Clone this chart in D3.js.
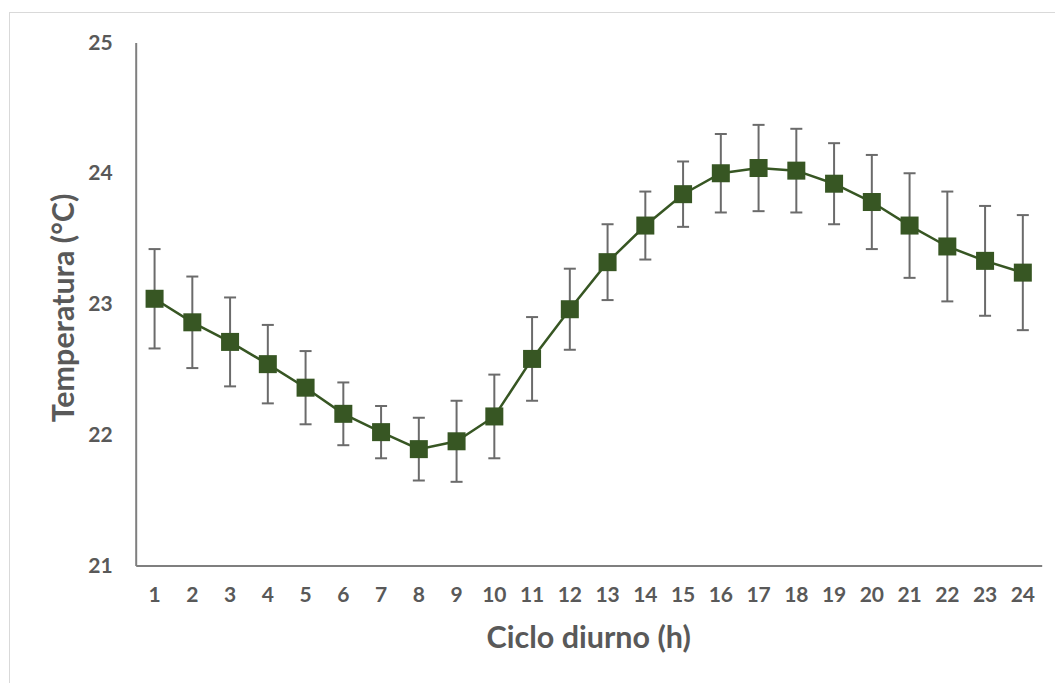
<!DOCTYPE html>
<html>
<head>
<meta charset="utf-8">
<script src="https://cdn.jsdelivr.net/npm/d3@7"></script>
<style>
  html, body { margin: 0; padding: 0; background: #fff; }
  svg { display: block; }
  text { font-family: Lato, "Open Sans", sans-serif; font-weight: 700; fill: #595959; }
</style>
</head>
<body>
<svg id="chart" width="1055" height="683"></svg>
<script>
// Hours of the daily cycle
const hours = [1, 2, 3, 4, 5, 6, 7, 8, 9, 10, 11, 12, 13, 14, 15, 16, 17, 18, 19, 20, 21, 22, 23, 24];
// Mean temperature (°C) per hour
const meanTemp = [23.04, 22.86, 22.71, 22.54, 22.36, 22.16, 22.02, 21.89, 21.95, 22.14, 22.58, 22.96,
                  23.32, 23.60, 23.84, 24.00, 24.04, 24.02, 23.92, 23.78, 23.60, 23.44, 23.33, 23.24];
// Error (± °C) per hour
const errTemp = [0.38, 0.35, 0.34, 0.30, 0.28, 0.24, 0.20, 0.24, 0.31, 0.32, 0.32, 0.31,
                 0.29, 0.26, 0.25, 0.30, 0.33, 0.32, 0.31, 0.36, 0.40, 0.42, 0.42, 0.44];
// Y-axis ticks
const yTicks = [21, 22, 23, 24, 25];

const svg = d3.select("#chart");

// light chart-area frame
svg.append("rect")
  .attr("x", 9.5).attr("y", 12.5)
  .attr("width", 1100).attr("height", 700)
  .attr("fill", "none").attr("stroke", "#d9d9d9").attr("stroke-width", 1);

const plotL = 135.7, plotR = 1041.7, plotT = 42.5, plotB = 565.5;

const x = d3.scaleBand().domain(hours).range([plotL, plotR]).padding(0);
const y = d3.scaleLinear().domain([21, 25]).range([plotB, plotT]);
const cx = h => x(h) + x.bandwidth() / 2;

// Y axis
const yAxis = svg.append("g")
  .attr("transform", `translate(${plotL},0)`)
  .call(d3.axisLeft(y).tickValues(yTicks).tickSize(0).tickPadding(23).tickFormat(d3.format("d")));
yAxis.select(".domain").attr("stroke", "#7f7f7f").attr("stroke-width", 2);
yAxis.selectAll("text").style("font-size", "21px").style("fill", "#595959")
  .style("font-family", "Lato, sans-serif").style("font-weight", "700");

// X axis
const xAxis = svg.append("g")
  .attr("transform", `translate(0,${plotB})`)
  .call(d3.axisBottom(x).tickSize(0).tickPadding(22));
xAxis.select(".domain").attr("stroke", "#7f7f7f").attr("stroke-width", 2);
xAxis.selectAll("text").style("font-size", "21px").style("fill", "#595959")
  .style("font-family", "Lato, sans-serif").style("font-weight", "700");

// Axis titles
svg.append("text")
  .attr("x", (plotL + plotR) / 2).attr("y", 648)
  .attr("text-anchor", "middle")
  .style("font-size", "30.5px")
  .text("Ciclo diurno (h)");

svg.append("text")
  .attr("transform", `translate(74,${(plotT + plotB) / 2 + 4}) rotate(-90)`)
  .attr("text-anchor", "middle")
  .style("font-size", "30.5px")
  .text("Temperatura (°C)");

const data = hours.map((h, i) => ({ h, v: meanTemp[i], e: errTemp[i] }));

// Error bars
const eb = svg.append("g").attr("stroke", "#6b6b6b").attr("stroke-width", 2);
data.forEach(d => {
  const xc = cx(d.h);
  eb.append("line").attr("x1", xc).attr("x2", xc).attr("y1", y(d.v + d.e)).attr("y2", y(d.v - d.e));
  eb.append("line").attr("x1", xc - 6).attr("x2", xc + 6).attr("y1", y(d.v + d.e)).attr("y2", y(d.v + d.e));
  eb.append("line").attr("x1", xc - 6).attr("x2", xc + 6).attr("y1", y(d.v - d.e)).attr("y2", y(d.v - d.e));
});

// Line
svg.append("path")
  .datum(data)
  .attr("fill", "none")
  .attr("stroke", "#375623")
  .attr("stroke-width", 2.5)
  .attr("d", d3.line().x(d => cx(d.h)).y(d => y(d.v)));

// Square markers
const s = 18;
svg.append("g").selectAll("rect")
  .data(data)
  .join("rect")
  .attr("x", d => cx(d.h) - s / 2)
  .attr("y", d => y(d.v) - s / 2)
  .attr("width", s).attr("height", s)
  .attr("fill", "#375623");
</script>
</body>
</html>
